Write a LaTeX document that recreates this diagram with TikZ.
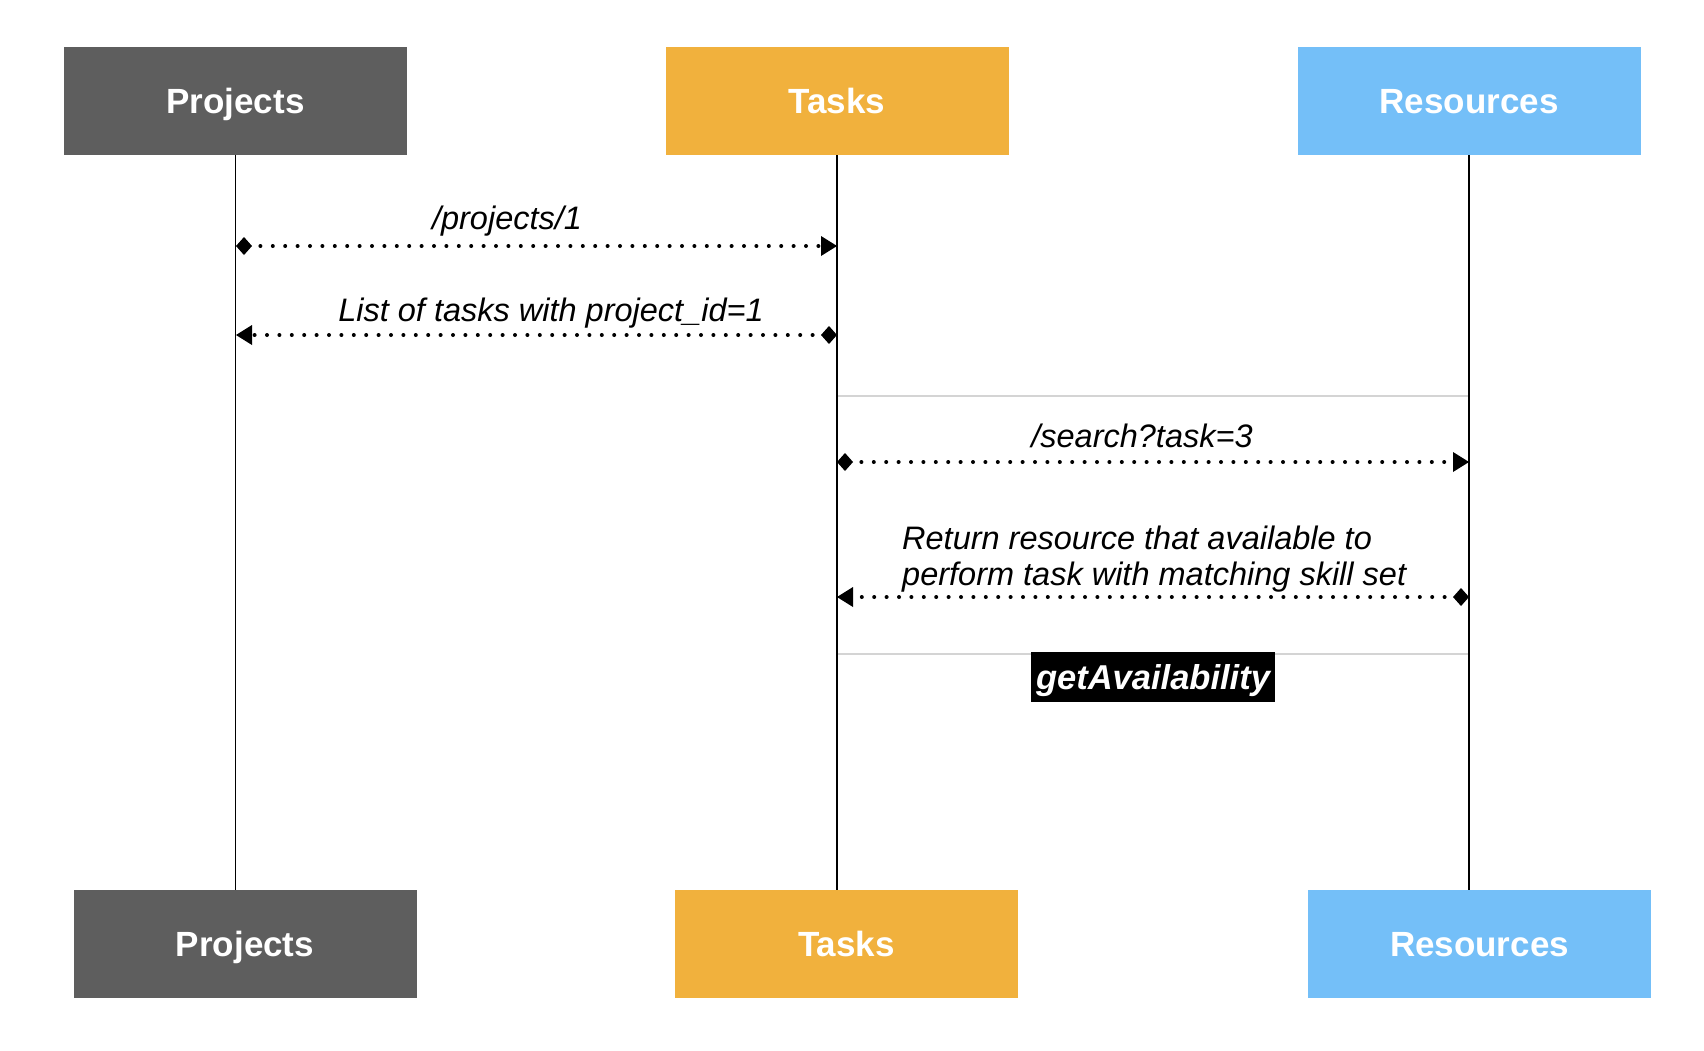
\documentclass[tikz,border=0pt]{standalone}
\usepackage{fontspec}
\setmainfont{Liberation Sans}
\usetikzlibrary{arrows.meta}
\definecolor{cproj}{HTML}{5E5E5E}
\definecolor{ctask}{HTML}{F1B13D}
\definecolor{cres}{HTML}{74BFF8}
\definecolor{cframe}{HTML}{D4D4D4}
\begin{document}
\begin{tikzpicture}[x=1pt,y=-1pt,
  actor/.style={minimum width=343pt,minimum height=108pt,inner sep=0pt,text=white,
    text height=25pt,text depth=0pt,
    font=\fontsize{35}{40}\selectfont\bfseries},
  lifeline/.style={line width=1.8pt,black},
  msg/.style={line width=4pt,dash pattern=on 0pt off 12.4pt,line cap=round,
    {Diamond[length=16pt,width=18pt,line width=0pt]}-{Triangle[length=16pt,width=20pt,line width=0pt]}},
  msglbl/.style={font=\fontsize{32.5}{36}\selectfont\itshape,inner sep=0pt}]
\useasboundingbox (0,0) rectangle (1704,1050);
\fill[white] (0,0) rectangle (1704,1050);
% frame
\draw[cframe,line width=1.6pt] (837,396) rectangle (1469,654);
% actors
\node[actor,fill=cproj] (pT) at (235.5,101) {Projects};
\node[actor,fill=ctask] (tT) at (837,101) {Tasks};
\node[actor,fill=cres] (rT) at (1469,101) {Resources};
\node[actor,fill=cproj] (pB) at (245,944) {Projects};
\node[actor,fill=ctask] (tB) at (846.5,944) {Tasks};
\node[actor,fill=cres] (rB) at (1479.5,944) {Resources};
% lifelines
\draw[lifeline] (pT.south) -- (pT.south |- pB.north);
\draw[lifeline] (tT.south) -- (tT.south |- tB.north);
\draw[lifeline] (rT.south) -- (rT.south |- rB.north);
% message endpoints
\coordinate (m1a) at (236,246);
\coordinate (m1b) at (837,246);
\coordinate (m2a) at (837,335);
\coordinate (m2b) at (236,335);
\coordinate (m3a) at (837,462);
\coordinate (m3b) at (1469,462);
\coordinate (m4a) at (1469,597);
\coordinate (m4b) at (837,597);
\draw[msg] (m1a) -- (m1b);
\draw[msg] (m2a) -- (m2b);
\draw[msg] (m3a) -- (m3b);
\draw[msg] (m4a) -- (m4b);
% labels
\node[msglbl] (l1) at (507,221) {/projects/1};
\node[msglbl] (l2) at (551,313) {List of tasks with project\_id=1};
\node[msglbl] (l3) at (1142,436) {/search?task=3};
\node[msglbl,align=left,anchor=west] (l4) at (902,559) {Return resource that available to\\perform task with matching skill set};
\node[fill=black,text=white,minimum width=244pt,minimum height=50pt,inner sep=0pt,
  text height=25pt,text depth=0pt,
  font=\fontsize{34.5}{40}\selectfont\bfseries\itshape] (ga) at (1153,677) {getAvailability};
\end{tikzpicture}
\end{document}
